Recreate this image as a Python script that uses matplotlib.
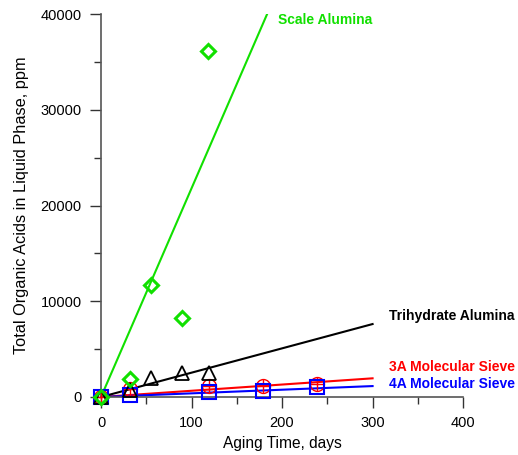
import matplotlib
matplotlib.use("Agg")
import matplotlib.pyplot as plt
import numpy as np
from matplotlib.ticker import MultipleLocator

plt.rcParams['font.family'] = ['Liberation Sans', 'DejaVu Sans']

# Measured acid concentrations (ppm) versus aging time (days)
scale_days = [0, 32, 55, 89, 118]
scale_ppm = [0, 1900, 11700, 8250, 36100]

trihydrate_days = [0, 32, 55, 89, 119]
trihydrate_ppm = [0, 700, 1950, 2550, 2500]

sieve3a_days = [0, 32, 119, 179, 239]
sieve3a_ppm = [0, 800, 1150, 1200, 1400]

sieve4a_days = [0, 32, 119, 179, 239]
sieve4a_ppm = [0, 250, 500, 600, 1000]

# Linear fits through the origin (ppm per day)
fit_days = [0, 300]
scale_slope = 218.0
trihydrate_slope = 25.4
sieve3a_slope = 6.5
sieve4a_slope = 3.8

series_labels = ["Scale Alumina", "Trihydrate Alumina",
                 "3A Molecular Sieve", "4A Molecular Sieve"]

GREEN = '#11e000'
RED = '#ff0000'
BLUE = '#0000ff'
BLACK = '#000000'

fig = plt.figure(figsize=(5.18, 4.55), dpi=100)
ax = fig.add_axes([0.195, 0.1275, 0.699, 0.8415])

fx = np.array(fit_days, dtype=float)
ax.plot(fx, sieve3a_slope * fx, color=RED, lw=1.5, zorder=2)
ax.plot(fx, sieve4a_slope * fx, color=BLUE, lw=1.5, zorder=2)
ax.plot(fx, trihydrate_slope * fx, color=BLACK, lw=1.5, zorder=2)
ax.plot(fx, scale_slope * fx, color=GREEN, lw=1.5, zorder=2)

# 3A sieve: open circle with crosshair
ax.plot(sieve3a_days, sieve3a_ppm, ls='none', marker='o', ms=10, mfc='none',
        mec=RED, mew=1.0, zorder=3, clip_on=False)
ax.plot(sieve3a_days, sieve3a_ppm, ls='none', marker='+', ms=10,
        mec=RED, mew=1.0, zorder=3, clip_on=False)
ax.plot(sieve4a_days, sieve4a_ppm, ls='none', marker='s', ms=10, mfc='none',
        mec=BLUE, mew=1.5, zorder=4, clip_on=False)
ax.plot(trihydrate_days, trihydrate_ppm, ls='none', marker='^', ms=10, mfc='none',
        mec=BLACK, mew=1.3, zorder=5, clip_on=False)
ax.plot(scale_days, scale_ppm, ls='none', marker='D', ms=7, mfc='none',
        mec=GREEN, mew=2.2, zorder=6, clip_on=False)

ax.text(196, 39400, series_labels[0], color=GREEN, fontsize=10, fontweight='bold',
        va='center', ha='left')
ax.text(318, 8500, series_labels[1], color=BLACK, fontsize=10, fontweight='bold',
        va='center', ha='left', clip_on=False)
ax.text(318, 3100, series_labels[2], color=RED, fontsize=10, fontweight='bold',
        va='center', ha='left', clip_on=False)
ax.text(318, 1350, series_labels[3], color=BLUE, fontsize=10, fontweight='bold',
        va='center', ha='left', clip_on=False)

ax.set_xlim(0, 400)
ax.set_ylim(0, 40000)
ax.xaxis.set_major_locator(MultipleLocator(100))
ax.xaxis.set_minor_locator(MultipleLocator(50))
ax.yaxis.set_major_locator(MultipleLocator(10000))
ax.yaxis.set_minor_locator(MultipleLocator(5000))

for side in ['top', 'right']:
    ax.spines[side].set_visible(False)
for side in ['left', 'bottom']:
    ax.spines[side].set_color('#555555')
    ax.spines[side].set_linewidth(1.2)

ax.tick_params(which='major', direction='out', length=8, width=1.0,
               color='#333333', labelsize=10.5, pad=6)
ax.tick_params(which='minor', direction='out', length=5, width=1.0,
               color='#333333')

ax.set_xlabel("Aging Time, days", fontsize=11.2, labelpad=4)
ax.set_ylabel("Total Organic Acids in Liquid Phase, ppm", fontsize=11.8, labelpad=8)

fig.savefig("out.png", dpi=100)
